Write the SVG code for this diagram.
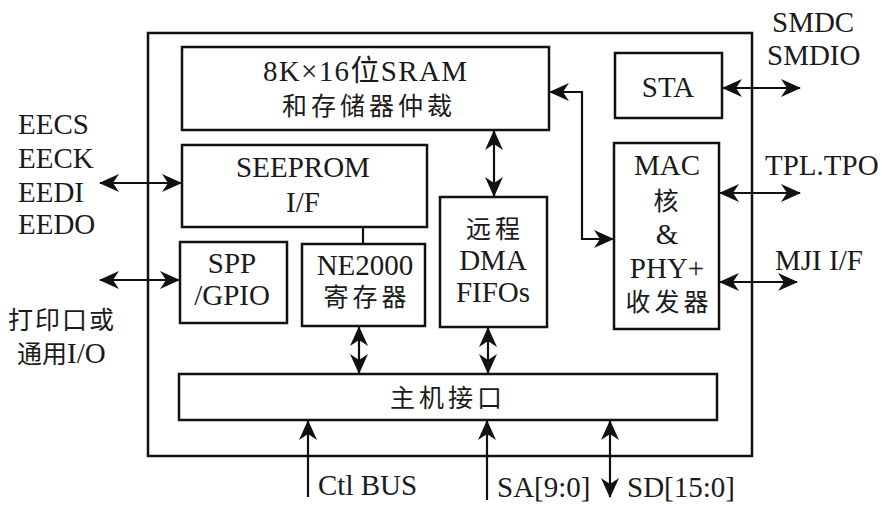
<svg xmlns="http://www.w3.org/2000/svg" width="882" height="505" viewBox="0 0 882 505">
<style>
.box{fill:none;stroke:#111;stroke-width:2.5}
.ln{fill:none;stroke:#111;stroke-width:2.2}
text{font-family:"Liberation Serif","Noto Sans CJK SC",serif;font-size:29px;fill:#1a1a1a}
.c{text-anchor:middle}
.cj{font-size:25px;letter-spacing:4px}
</style>
<defs>
<marker id="ah" viewBox="0 0 20 18" refX="19" refY="9" markerWidth="20" markerHeight="18" markerUnits="userSpaceOnUse" orient="auto-start-reverse">
<path d="M0,0 L20,9 L0,18 L6,9 z" fill="#111"/>
</marker>
</defs>
<rect width="882" height="505" fill="#fff"/>
<g id="outer"><rect class="box" x="148" y="33" width="604" height="423"/></g>

<g id="sram"><rect class="box" x="182" y="47" width="367" height="83"/>
<text x="263" y="81" textLength="204" lengthAdjust="spacing">8K×16位SRAM</text>
<text class="c cj" x="369" y="115">和存储器仲裁</text></g>

<g id="sta"><rect class="box" x="615" y="53" width="107" height="65"/>
<text class="c" x="668" y="97">STA</text></g>

<g id="seeprom"><rect class="box" x="182" y="145" width="245" height="82"/>
<text class="c" x="303" y="177">SEEPROM</text>
<text class="c" x="303" y="212">I/F</text></g>

<g id="spp"><rect class="box" x="180" y="242" width="107" height="81"/>
<text class="c" x="232" y="273">SPP</text>
<text class="c" x="232" y="305">/GPIO</text></g>

<g id="ne2000"><rect class="box" x="302" y="244" width="123" height="82"/>
<text class="c" x="365" y="275">NE2000</text>
<text class="c cj" x="367" y="306">寄存器</text></g>

<g id="dma"><rect class="box" x="440" y="197" width="107" height="130"/>
<text class="c cj" x="495" y="238">远程</text>
<text class="c" x="493" y="270">DMA</text>
<text class="c" x="493" y="302">FIFOs</text></g>

<g id="mac"><rect class="box" x="614" y="143" width="105" height="186"/>
<text class="c" x="667" y="175">MAC</text>
<text class="c cj" x="668" y="210">核</text>
<text class="c" x="667" y="244">&amp;</text>
<text class="c" x="667" y="278">PHY+</text>
<text class="c cj" x="669" y="311">收发器</text></g>

<g id="host"><rect class="box" x="179" y="374" width="538" height="46"/>
<text class="c cj" x="448" y="407">主机接口</text></g>

<g id="connectors">
<line class="ln" x1="363" y1="227" x2="363" y2="244"/>
<line class="ln" x1="100" y1="183" x2="181" y2="183" marker-start="url(#ah)" marker-end="url(#ah)"/>
<line class="ln" x1="100" y1="280" x2="179" y2="280" marker-start="url(#ah)" marker-end="url(#ah)"/>
<line class="ln" x1="494" y1="131" x2="494" y2="196" marker-start="url(#ah)" marker-end="url(#ah)"/>
<polyline class="ln" points="550,92 582,92 582,239 613,239" marker-start="url(#ah)" marker-end="url(#ah)"/>
<line class="ln" x1="723" y1="88" x2="800" y2="88" marker-start="url(#ah)" marker-end="url(#ah)"/>
<line class="ln" x1="720" y1="193" x2="800" y2="193" marker-start="url(#ah)" marker-end="url(#ah)"/>
<line class="ln" x1="720" y1="282" x2="797" y2="282" marker-start="url(#ah)" marker-end="url(#ah)"/>
<line class="ln" x1="359" y1="327" x2="359" y2="373" marker-start="url(#ah)" marker-end="url(#ah)"/>
<line class="ln" x1="488" y1="328" x2="488" y2="373" marker-start="url(#ah)" marker-end="url(#ah)"/>
<line class="ln" x1="308" y1="497" x2="308" y2="421" marker-end="url(#ah)"/>
<line class="ln" x1="487" y1="500" x2="487" y2="421" marker-end="url(#ah)"/>
<line class="ln" x1="610" y1="421" x2="610" y2="497" marker-start="url(#ah)" marker-end="url(#ah)"/>
</g>

<g id="labels">
<text x="18" y="134">EECS</text>
<text x="18" y="168">EECK</text>
<text x="18" y="202">EEDI</text>
<text x="18" y="234">EEDO</text>
<text class="cj" x="8" y="329" style="letter-spacing:2px">打印口或</text>
<text x="17" y="363"><tspan class="cj" style="letter-spacing:0">通用</tspan>I/O</text>
<text x="772" y="32">SMDC</text>
<text x="767" y="65">SMDIO</text>
<text x="765" y="175">TPL.TPO</text>
<text x="775" y="270">MJI I/F</text>
<text x="318" y="495">Ctl BUS</text>
<text x="497" y="497">SA[9:0]</text>
<text x="627" y="497">SD[15:0]</text>
</g>
</svg>
